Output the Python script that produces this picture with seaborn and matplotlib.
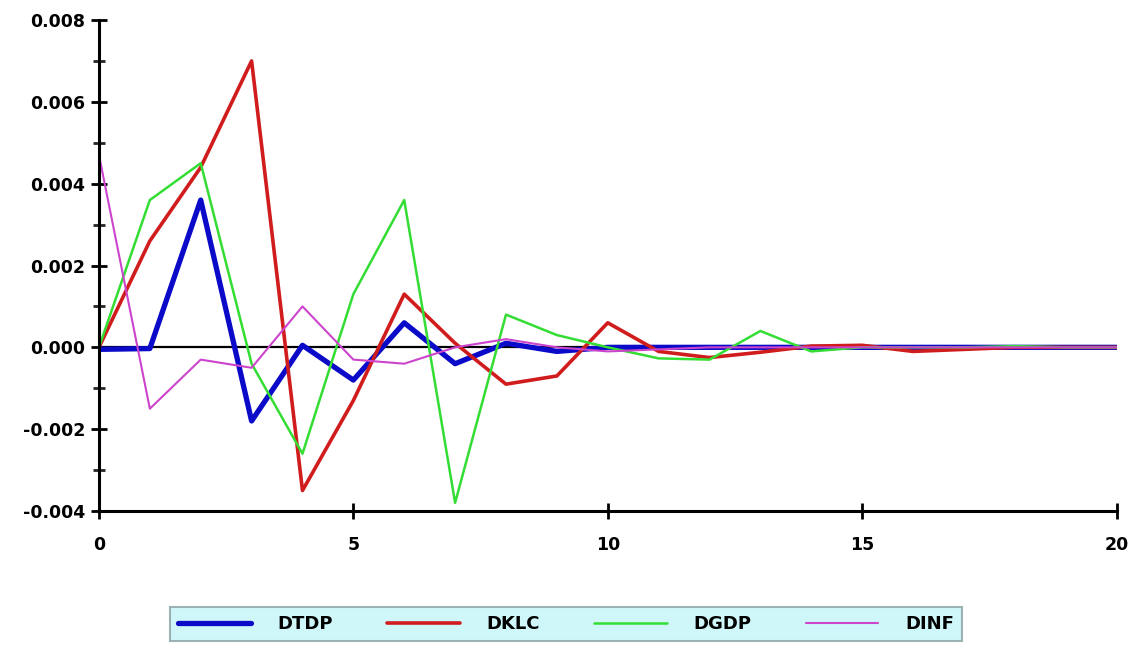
import numpy as np
import pandas as pd
import matplotlib
matplotlib.use('Agg')
import matplotlib.pyplot as plt
from matplotlib.ticker import MultipleLocator
import seaborn as sns

# Response periods and the four series
periods = list(range(21))
dtdp = [-0.00005, -0.00003, 0.0036, -0.0018, 0.00005, -0.0008, 0.0006, -0.0004, 0.0001, -0.0001,
        0.0, 0.0, 0.0, 0.0, 0.0, 0.0, 0.0, 0.0, 0.0, 0.0, 0.0]
dklc = [0.0, 0.0026, 0.0044, 0.0070, -0.0035, -0.0013, 0.0013, 0.0001, -0.0009, -0.0007,
        0.0006, -0.0001, -0.00025, -0.00012, 0.00003, 0.00005, -0.0001, -0.00005, 0.0, 0.0, 0.0]
dgdp = [0.0, 0.0036, 0.0045, -0.0004, -0.0026, 0.0013, 0.0036, -0.0038, 0.0008, 0.0003,
        0.0, -0.00027, -0.0003, 0.0004, -0.0001, 0.0, 0.0, 0.0, 0.00003, 0.0, 0.0]
dinf = [0.0047, -0.0015, -0.0003, -0.0005, 0.0010, -0.0003, -0.0004, 0.0, 0.0002, 0.0,
        -0.0001, -0.00005, 0.0, 0.0, 0.0, 0.0, 0.0, 0.0, 0.0, 0.0, 0.0]

series_names = ['DTDP', 'DKLC', 'DGDP', 'DINF']
series_colors = ['#0a0ac8', '#d01c1c', '#33dd33', '#cc44cc']
series_widths = [3.8, 2.6, 1.8, 1.5]

df = pd.DataFrame({'period': periods, 'DTDP': dtdp, 'DKLC': dklc, 'DGDP': dgdp, 'DINF': dinf})
long_df = df.melt(id_vars='period', var_name='series', value_name='response')

sns.set_style('ticks')
plt.rcParams['font.family'] = ['DejaVu Sans']
plt.rcParams['text.color'] = 'black'

fig = plt.figure(figsize=(11.44, 6.46), dpi=100)
ax = fig.add_axes([0.0865, 0.209, 0.8895, 0.760])

ax.axhline(0, color='black', linewidth=1.6, zorder=1)

for name, color, lw in zip(series_names, series_colors, series_widths):
    sns.lineplot(data=long_df[long_df['series'] == name], x='period', y='response',
                 color=color, linewidth=lw, label=name, ax=ax, zorder=2)

ax.set_xlim(0, 20)
ax.set_ylim(-0.004, 0.008)
ax.set_xlabel('')
ax.set_ylabel('')

ax.xaxis.set_major_locator(MultipleLocator(5))
ax.yaxis.set_major_locator(MultipleLocator(0.002))
ax.yaxis.set_minor_locator(MultipleLocator(0.001))
ax.yaxis.set_major_formatter(matplotlib.ticker.FormatStrFormatter('%.3f'))

for side in ['top', 'right']:
    ax.spines[side].set_visible(False)
for side in ['left', 'bottom']:
    ax.spines[side].set_linewidth(2.2)
    ax.spines[side].set_color('black')

ax.tick_params(axis='both', which='major', direction='inout', length=12, width=2,
               labelsize=12.5, pad=4, colors='black', left=True, bottom=True)
ax.tick_params(axis='y', which='minor', direction='inout', length=9, width=2, left=True)
ax.tick_params(axis='x', which='major', pad=12)
for lbl in ax.get_xticklabels() + ax.get_yticklabels():
    lbl.set_fontweight('bold')

ax.get_legend().remove()
handles, labels = ax.get_legend_handles_labels()
leg = fig.legend(handles, labels, loc='center', bbox_to_anchor=(0.495, 0.034), ncol=4,
                 frameon=True, fancybox=False, handlelength=4.0, handletextpad=1.5,
                 columnspacing=3.0, borderpad=0.45, prop={'weight': 'bold', 'size': 13})
leg.get_frame().set_facecolor('#c4f6f8')
leg.get_frame().set_edgecolor('#8aa0a0')
leg.get_frame().set_linewidth(1.5)
for t in leg.get_texts():
    t.set_color('black')

fig.savefig('out.png', dpi=100)
